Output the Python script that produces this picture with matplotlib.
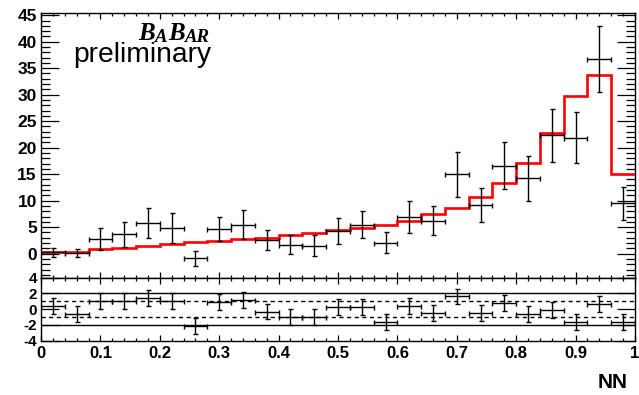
import numpy as np
import matplotlib
matplotlib.use("Agg")
import matplotlib.pyplot as plt
from matplotlib.ticker import MultipleLocator

plt.rcParams.update({
    "font.family": "Liberation Sans",
    "axes.unicode_minus": False,
    "axes.linewidth": 1.0,
})

# NN output bins (25 bins of 0.04)
edges = np.linspace(0.0, 1.0, 26)
centers = 0.5 * (edges[:-1] + edges[1:])

data = [0.26, 0.1, 2.7, 3.7, 5.8, 4.9, -0.9, 4.7, 5.5, 2.5, 1.65, 1.5, 4.35,
        5.5, 2.1, 6.9, 6.2, 15.0, 9.1, 16.6, 14.2, 22.3, 21.9, 36.7, 9.5]
data_err = [0.8, 0.7, 2.05, 2.35, 2.9, 2.85, 1.35, 2.3, 2.65, 1.9, 1.8, 2.0, 2.45,
            2.6, 1.95, 2.95, 2.7, 4.25, 3.2, 4.45, 4.2, 4.95, 4.8, 6.25, 3.1]
model = [0.25, 0.3, 0.8, 1.1, 1.45, 1.8, 2.15, 2.45, 2.7, 3.0, 3.5, 3.85, 4.5,
         4.8, 5.4, 6.2, 7.4, 8.7, 10.75, 13.3, 17.05, 22.7, 29.8, 33.7, 15.0]
pulls = [0.45, -0.6, 1.07, 1.07, 1.45, 1.07, -2.1, 0.95, 1.16, -0.3, -1.0, -1.0, 0.3,
         0.3, -1.6, 0.4, -0.45, 1.6, -0.5, 0.8, -0.65, -0.1, -1.65, 0.6, -1.65]
pull_err = [1.0] * 25

xticks = [0, 0.1, 0.2, 0.3, 0.4, 0.5, 0.6, 0.7, 0.8, 0.9, 1.0]
xticklabels = ["0", "0.1", "0.2", "0.3", "0.4", "0.5", "0.6", "0.7", "0.8", "0.9", "1"]
yticks_top = [0, 5, 10, 15, 20, 25, 30, 35, 40, 45]
yticks_pull = [-4, -2, 0, 2, 4]

W, H = 639, 395
fig = plt.figure(figsize=(W / 100, H / 100), dpi=100)

x0, x1 = 41, 635
ax = fig.add_axes([x0 / W, 1 - 277.5 / H, (x1 - x0) / W, (277.5 - 13.3) / H])
axp = fig.add_axes([x0 / W, 1 - 340.8 / H, (x1 - x0) / W, (340.8 - 277.5) / H])

# top panel
ax.stairs(model, edges, baseline=None, color="red", lw=1.9, zorder=3)
ax.errorbar(centers, data, xerr=0.02, yerr=data_err, fmt="none", ecolor="black",
            elinewidth=1.0, capsize=1.8, capthick=1.0, zorder=4)
ax.set_xlim(0, 1)
ax.set_ylim(-4.5, 45.36)
ax.set_xticks(xticks)
ax.xaxis.set_minor_locator(MultipleLocator(0.02))
ax.set_xticklabels([])
ax.set_yticks(yticks_top)
ax.set_yticklabels([str(v) for v in yticks_top], fontweight="bold", fontsize=12.5)
ax.yaxis.set_minor_locator(MultipleLocator(1))
ax.tick_params(axis="y", which="major", direction="in", length=13, width=0.9,
               left=True, right=True, pad=3)
ax.tick_params(axis="y", which="minor", direction="in", length=6.5, width=0.9,
               left=True, right=True)
ax.tick_params(axis="x", which="major", direction="in", length=4.5, width=0.9,
               top=True, bottom=True)
ax.tick_params(axis="x", which="minor", direction="in", length=2.5, width=0.9,
               top=True, bottom=True)

# BABAR logo: big/small caps in bold italic serif, each piece chained to the last
logo_font = dict(fontweight="bold", fontstyle="italic", family="Liberation Serif")
logo_parts = [("B", 18), ("A", 13.5), ("B", 18), ("AR", 13.5)]
last = fig.text(138 / W, 1 - 40.5 / H, logo_parts[0][0], fontsize=logo_parts[0][1],
                ha="left", va="baseline", **logo_font)
for txt, sz in logo_parts[1:]:
    last = ax.annotate(txt, xy=(1, 0), xycoords=last, xytext=(0.3, 0),
                       textcoords="offset points", fontsize=sz,
                       ha="left", va="bottom", **logo_font)

fig.text(73 / W, 1 - 61.7 / H, "preliminary", fontsize=20.3, ha="left", va="baseline")

# pull panel
axp.errorbar(centers, pulls, xerr=0.02, yerr=pull_err, fmt="none", ecolor="black",
             elinewidth=1.0, capsize=1.8, capthick=1.0, zorder=4)
for lev in (2, -2):
    axp.axhline(lev, color="black", lw=1.0, zorder=2)
for lev in (1, -1):
    axp.axhline(lev, color="black", lw=1.0, ls=(0, (3, 2.5)), zorder=2)
axp.set_xlim(0, 1)
axp.set_ylim(-4, 4)
axp.set_xticks(xticks)
axp.set_xticklabels(xticklabels, fontweight="bold", fontsize=12)
axp.xaxis.set_minor_locator(MultipleLocator(0.02))
axp.set_yticks(yticks_pull)
axp.set_yticklabels([str(v) for v in yticks_pull], fontweight="bold", fontsize=11)
axp.tick_params(axis="y", which="major", direction="in", length=13, width=0.9,
                left=True, right=True, pad=3)
axp.tick_params(axis="x", which="major", direction="in", length=4.5, width=0.9,
                top=True, bottom=True, pad=4)
axp.tick_params(axis="x", which="minor", direction="in", length=2.5, width=0.9,
                top=True, bottom=True)

fig.text(628 / W, 1 - 382 / H, "NN", fontsize=15, fontweight="bold",
         ha="right", va="center")

fig.savefig("out.png", dpi=100)
